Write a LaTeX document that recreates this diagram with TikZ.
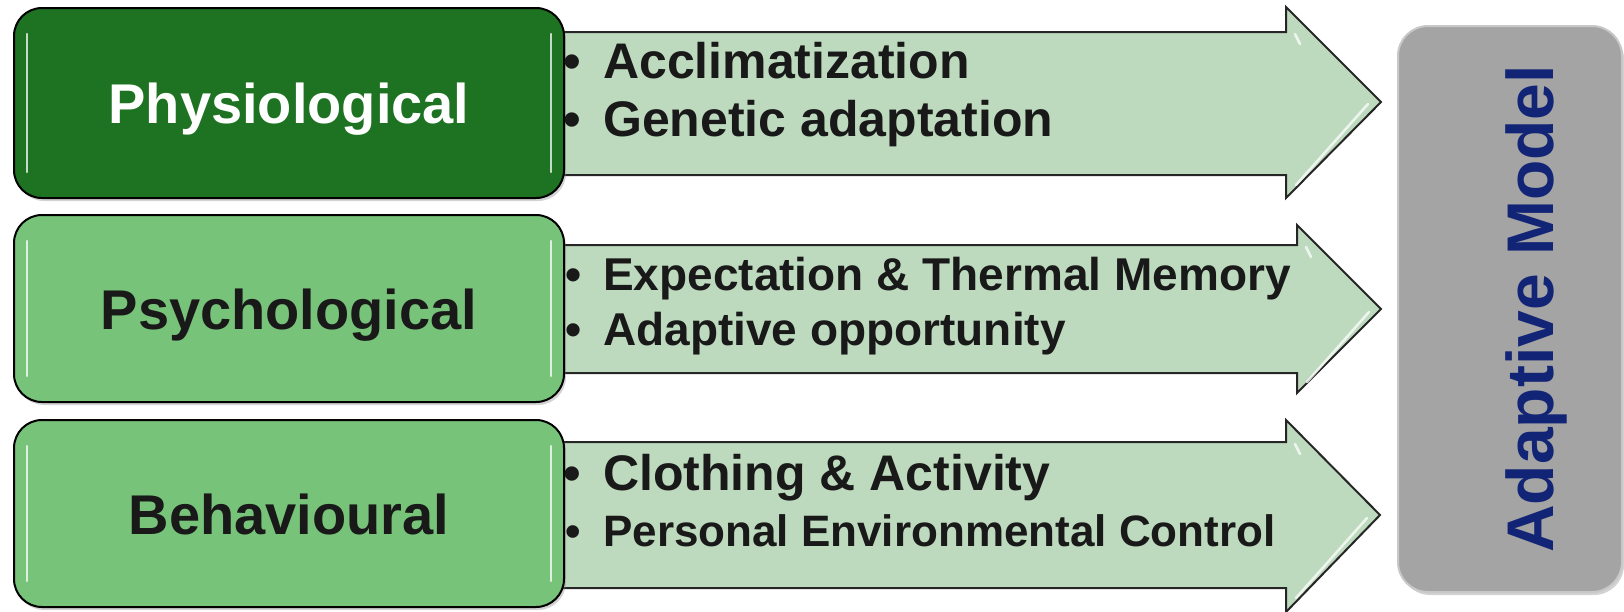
\documentclass[tikz,border=0pt]{standalone}
\usepackage{fontspec}
\setmainfont{Liberation Sans}
\usetikzlibrary{shadows}
\definecolor{darkgr}{RGB}{30,115,34}
\definecolor{lightgr}{RGB}{120,195,122}
\definecolor{arrowgr}{RGB}{190,218,190}
\definecolor{edgegray}{RGB}{38,38,38}
\definecolor{boxgray}{RGB}{164,164,164}
\definecolor{boxedge}{RGB}{200,200,200}
\definecolor{navy}{RGB}{18,36,118}
\tikzset{
  catbox/.style={draw=black, line width=2pt, rounded corners=28pt,
    minimum width=550pt, inner sep=0pt, text height=41pt, text depth=0pt,
    font=\fontsize{56}{60}\selectfont\bfseries,
    drop shadow={shadow xshift=2pt, shadow yshift=-3pt, opacity=0.35}},
  blockarrow/.style={draw=edgegray, line width=2pt, fill=arrowgr, line join=miter},
  gloss/.style={white, line width=2.5pt, line cap=round, opacity=0.75},
  itemtext/.style={anchor=base west, inner sep=0pt, font=\bfseries, text=black!90},
  modelbox/.style={draw=boxedge, fill=boxgray, line width=2pt, rounded corners=30pt,
    rotate=90, minimum width=566pt, minimum height=224pt, inner sep=0pt,
    text height=87pt, text depth=0pt, text=navy,
    font=\fontsize{66}{70}\selectfont\bfseries,
    drop shadow={shadow xshift=2pt, shadow yshift=-3pt, opacity=0.35}}
}
\newcommand{\bul}{\llap{\textbullet\hspace{22pt}}}
\begin{document}
\begin{tikzpicture}[x=1pt,y=-1pt]
\useasboundingbox (0,0) rectangle (1624,611);

% block arrows
\draw[blockarrow] (540,32) -- (1286,32) -- (1286,7) -- (1381,102) -- (1286,198) -- (1286,175) -- (540,175) -- cycle;
\draw[blockarrow] (540,245) -- (1297,245) -- (1297,225) -- (1381,309) -- (1297,393) -- (1297,373) -- (540,373) -- cycle;
\draw[blockarrow] (540,442) -- (1286,442) -- (1286,420) -- (1380,515) -- (1286,612) -- (1286,588) -- (540,588) -- cycle;
% arrow gloss
\draw[gloss] (1296,185) -- (1368,104);
\draw[gloss] (1307,382) -- (1369,312);
\draw[gloss] (1296,598) -- (1367,518);
\draw[gloss] (1295,34) -- (1300,44);
\draw[gloss] (1306,247) -- (1311,257);
\draw[gloss] (1295,444) -- (1300,454);

% category boxes
\node[catbox, fill=darkgr, text=white, minimum height=190pt] (phys) at (289,103) {Physiological};
\node[catbox, fill=lightgr, text=black!90, minimum height=187pt] (psych) at (289,308.5) {Psychological};
\node[catbox, fill=lightgr, text=black!90, minimum height=187pt] (behav) at (289,513.5) {Behavioural};

% box gloss
\foreach \t/\b in {8/198, 215/402, 420/607} {
  \draw[gloss] (27,\t+26) -- (27,\b-26);
  \draw[gloss] (551,\t+26) -- (551,\b-26);
}

% item texts
\node[itemtext, font=\fontsize{50}{60}\selectfont\bfseries] (a1) at (603,78) {\bul Acclimatization};
\node[itemtext, font=\fontsize{50}{60}\selectfont\bfseries] (a2) at (603,136) {\bul Genetic adaptation};
\node[itemtext, font=\fontsize{46}{56}\selectfont\bfseries] (b1) at (603,290) {\bul Expectation \& Thermal Memory};
\node[itemtext, font=\fontsize{46}{56}\selectfont\bfseries] (b2) at (603,345) {\bul Adaptive opportunity};
\node[itemtext, font=\fontsize{50}{60}\selectfont\bfseries] (c1) at (603,490) {\bul Clothing \& Activity};
\node[itemtext, font=\fontsize{44}{54}\selectfont\bfseries] (c2) at (603,546) {\bul Personal Environmental Control};

% model box
\node[modelbox] (model) at (1510,309) {Adaptive Model};
\end{tikzpicture}
\end{document}
